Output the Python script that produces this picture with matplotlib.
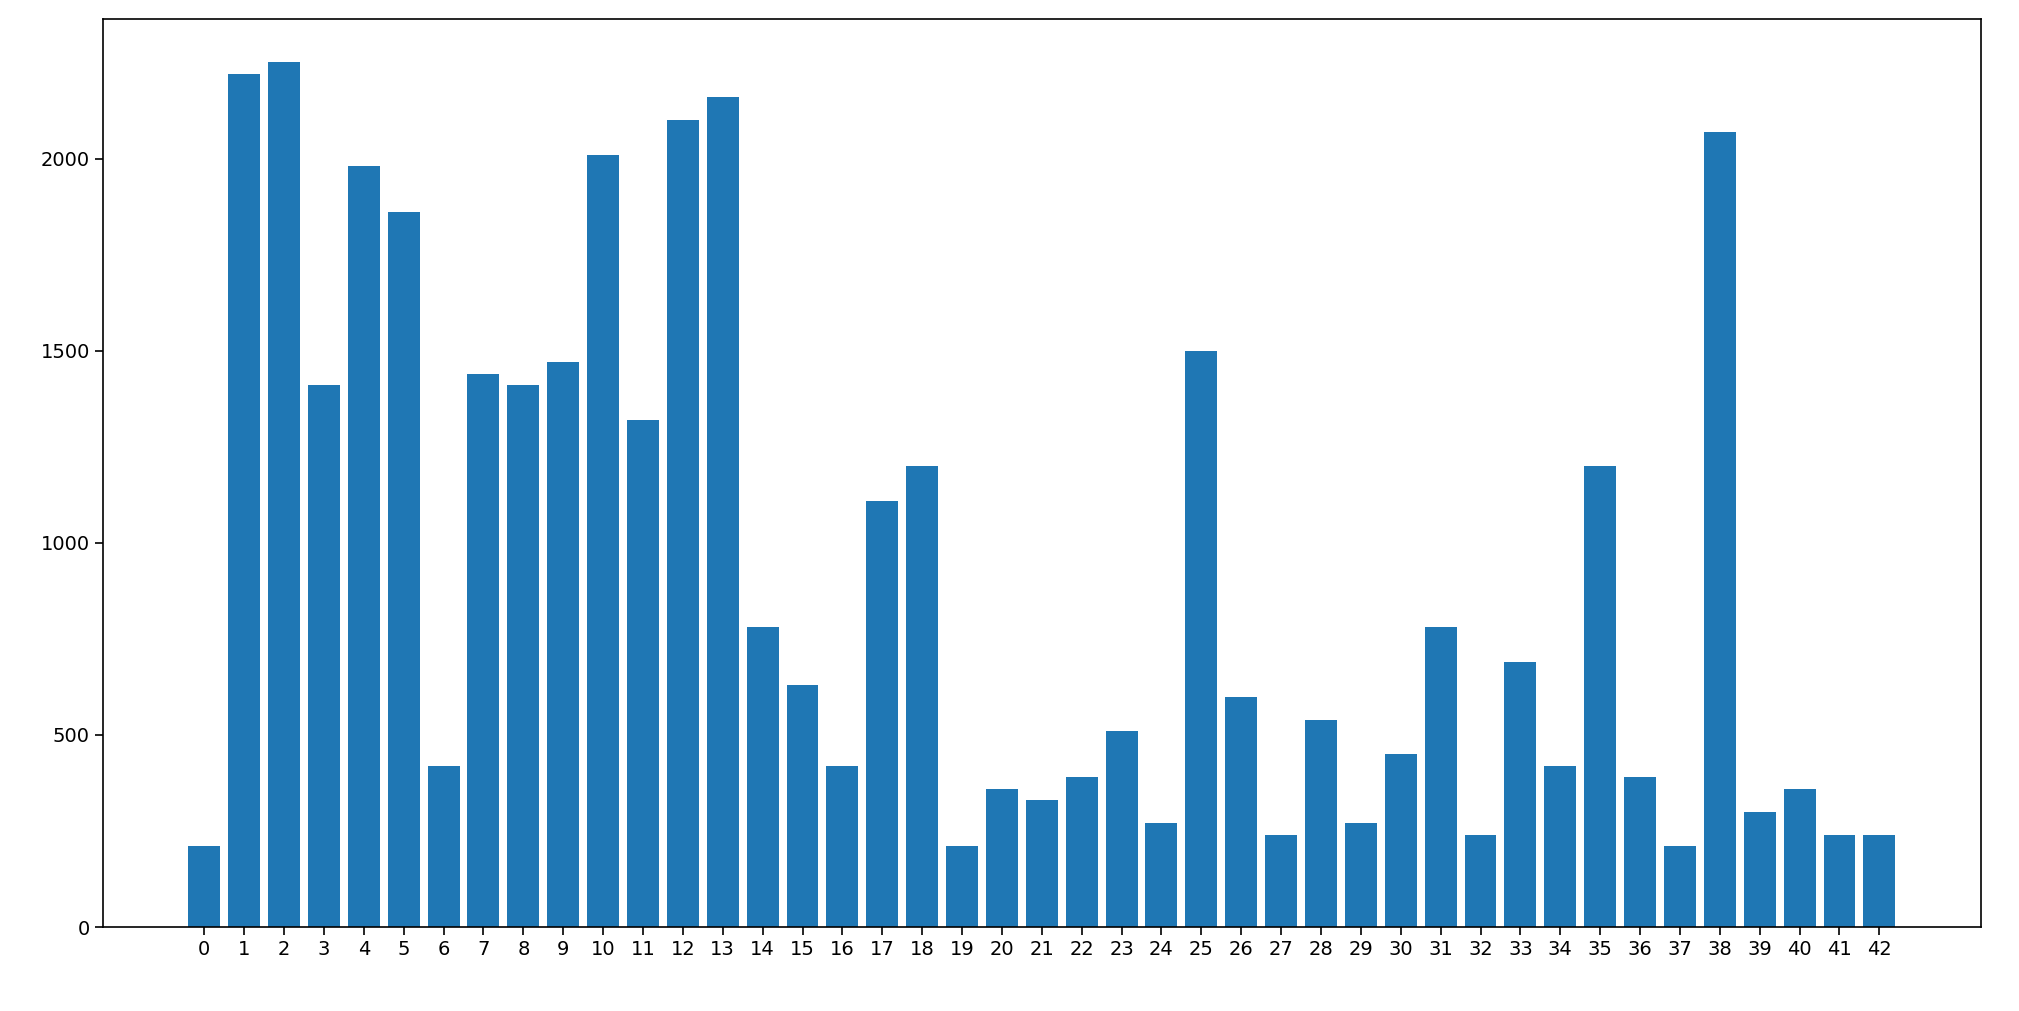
import matplotlib
matplotlib.use("Agg")
import matplotlib.pyplot as plt

categories = list(range(43))
values = [210, 2220, 2250, 1410, 1980, 1860, 420, 1440, 1410, 1470,
          2010, 1320, 2100, 2160, 780, 630, 420, 1110, 1200, 210,
          360, 330, 390, 510, 270, 1500, 600, 240, 540, 270,
          450, 780, 240, 690, 420, 1200, 390, 210, 2070, 300,
          360, 240, 240]

fig = plt.figure(figsize=(20.19, 10.11), dpi=100)
ax = fig.add_axes([0.051, 0.083, 0.930, 0.898])
ax.bar(categories, values, color="#1f77b4")
ax.set_xticks(categories)
ax.set_xticklabels([str(c) for c in categories])
ax.set_yticks([0, 500, 1000, 1500, 2000])
ax.tick_params(labelsize=14, length=6, width=1.2)
for s in ax.spines.values():
    s.set_linewidth(1.2)
fig.savefig("out.png", dpi=100)
